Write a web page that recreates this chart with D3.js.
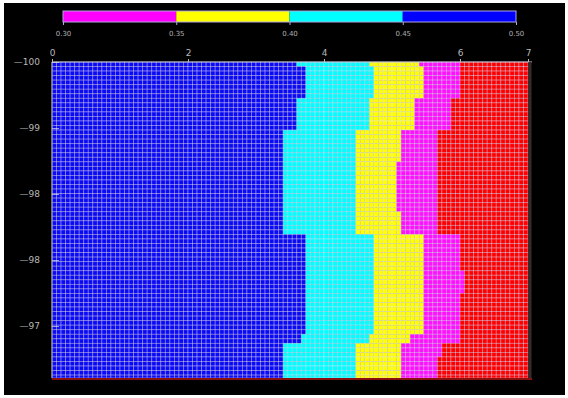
<!DOCTYPE html>
<html>
<head>
<meta charset="utf-8">
<script src="https://cdn.jsdelivr.net/npm/d3@7"></script>
<style>
  html, body { margin: 0; padding: 0; background: #fff; }
  svg { display: block; }
</style>
</head>
<body>
<svg id="chart" width="568" height="398"></svg>
<script>
// Class limits shown on the colour bar and the colour of each class
const legendTicks = [0.30, 0.35, 0.40, 0.45, 0.50];
const legendColors = ["#ff00ff", "#ffff00", "#00ffff", "#0000ff"];
// Colours from left to right across the section (high to low values)
const classColors = ["#0a0af5", "#00ffff", "#ffff00", "#ff10ff", "#ff0000"];

// Depth bands (top of each band) and the horizontal position where the class changes
const bandTop = [-100, -99.93, -99.56, -99.18, -98.81, -98.17, -97.93, -97.48, -97.20, -96.72, -96.57, -96.41];
const edgeBlueCyan    = [3.62, 3.72, 3.62, 3.43, 3.43, 3.43, 3.72, 3.72, 3.72, 3.68, 3.43, 3.43];
const edgeCyanYellow  = [4.65, 4.74, 4.65, 4.46, 4.46, 4.46, 4.75, 4.75, 4.75, 4.65, 4.46, 4.46];
const edgeYellowPink  = [5.38, 5.44, 5.34, 5.15, 5.07, 5.16, 5.44, 5.46, 5.46, 5.26, 5.16, 5.16];
const edgePinkRed     = [5.97, 5.97, 5.88, 5.66, 5.66, 5.66, 5.97, 6.04, 5.97, 5.97, 5.75, 5.68];

const xDomain = [0, 7];
const yDomain = [-100, -96.17];
const xTicks = [0, 2, 4, 6, 7];
const yTicks = [-100, -99.2, -98.4, -97.6, -96.8];
const cellW = 1 / 15;
const cellH = 0.055;

const svg = d3.select("#chart");
svg.append("rect").attr("x", 4).attr("y", 3).attr("width", 561).attr("height", 392).attr("fill", "#000");

const x = d3.scaleLinear().domain(xDomain).range([52, 528]);
const y = d3.scaleLinear().domain(yDomain).range([62, 378]);

// Grid cells
const cols = d3.range(xDomain[0], xDomain[1] - 1e-9, cellW);
const rows = d3.range(yDomain[0], yDomain[1] - 1e-9, cellH).filter(v => v < yDomain[1]);
const cells = [];
rows.forEach(r => {
  const yc = Math.min(r + cellH / 2, yDomain[1]);
  const b = d3.bisectRight(bandTop, yc) - 1;
  const cls = d3.scaleThreshold()
    .domain([edgeBlueCyan[b], edgeCyanYellow[b], edgeYellowPink[b], edgePinkRed[b]])
    .range(classColors);
  cols.forEach(c => {
    cells.push({ x0: c, x1: Math.min(c + cellW, xDomain[1]), y0: r, y1: Math.min(r + cellH, yDomain[1]), color: cls(c + cellW / 2) });
  });
});

const g = svg.append("g");
g.selectAll("rect.cell").data(cells).join("rect")
  .attr("class", "cell")
  .attr("x", d => x(d.x0))
  .attr("y", d => y(d.y0))
  .attr("width", d => x(d.x1) - x(d.x0))
  .attr("height", d => y(d.y1) - y(d.y0))
  .attr("fill", d => d.color)
  .attr("stroke", "rgba(235,225,255,0.48)")
  .attr("stroke-width", 0.8);

// Frame
svg.append("line").attr("x1", x(0)).attr("x2", x(0)).attr("y1", y(yDomain[0])).attr("y2", y(yDomain[1]))
  .attr("stroke", "#9a9ab0").attr("stroke-width", 1.2);
svg.append("line").attr("x1", x(0)).attr("x2", x(7) + 4).attr("y1", y(yDomain[0])).attr("y2", y(yDomain[0]))
  .attr("stroke", "#c8c8d8").attr("stroke-width", 1);
svg.append("line").attr("x1", x(7) + 2).attr("x2", x(7) + 2).attr("y1", y(yDomain[0])).attr("y2", y(yDomain[1]) + 2)
  .attr("stroke", "#3a2a2a").attr("stroke-width", 3);
svg.append("line").attr("x1", x(0)).attr("x2", x(7) + 4).attr("y1", y(yDomain[1]) + 1).attr("y2", y(yDomain[1]) + 1)
  .attr("stroke", "#8a1010").attr("stroke-width", 2);

// Axes
const fmtY = d3.format(".0f");
const yAxis = d3.axisLeft(y).tickValues(yTicks).tickFormat(v => "\u2014" + fmtY(Math.abs(v))).tickSize(-7).tickPadding(12);
const ya = svg.append("g").attr("transform", `translate(${x(0)},0)`).call(yAxis);
ya.select(".domain").remove();
ya.selectAll(".tick line").attr("stroke", "#ddd").attr("stroke-opacity", 0.7);
ya.selectAll(".tick text").attr("fill", "#b8b8b8").attr("font-family", "DejaVu Sans").attr("font-size", 9);

const xAxis = d3.axisTop(x).tickValues(xTicks).tickFormat(d3.format("d")).tickSize(3).tickPadding(3);
const xa = svg.append("g").attr("transform", `translate(0,${y(yDomain[0])})`).call(xAxis);
xa.select(".domain").remove();
xa.selectAll(".tick line").attr("stroke", "#bbb");
xa.selectAll(".tick text").attr("fill", "#b8b8b8").attr("font-family", "DejaVu Sans").attr("font-size", 9);

// Colour bar
const cb = d3.scaleLinear().domain([0.30, 0.50]).range([63, 516]);
const legend = svg.append("g");
legend.selectAll("rect").data(legendColors).join("rect")
  .attr("x", (d, i) => cb(legendTicks[i]))
  .attr("y", 11)
  .attr("width", (d, i) => cb(legendTicks[i + 1]) - cb(legendTicks[i]))
  .attr("height", 11)
  .attr("fill", d => d);
legend.append("rect").attr("x", cb(0.30)).attr("y", 11).attr("width", cb(0.50) - cb(0.30)).attr("height", 11)
  .attr("fill", "none").attr("stroke", "#b0a8e0").attr("stroke-width", 1);
const cbAxis = d3.axisBottom(cb).tickValues(legendTicks).tickFormat(d3.format(".2f")).tickSize(3).tickPadding(6);
const ca = legend.append("g").attr("transform", "translate(0,22)").call(cbAxis);
ca.select(".domain").remove();
ca.selectAll(".tick line").attr("stroke", "#b0a8e0");
ca.selectAll(".tick text").attr("fill", "#b0b0b0").attr("font-family", "DejaVu Sans").attr("font-size", 7);
</script>
</body>
</html>
